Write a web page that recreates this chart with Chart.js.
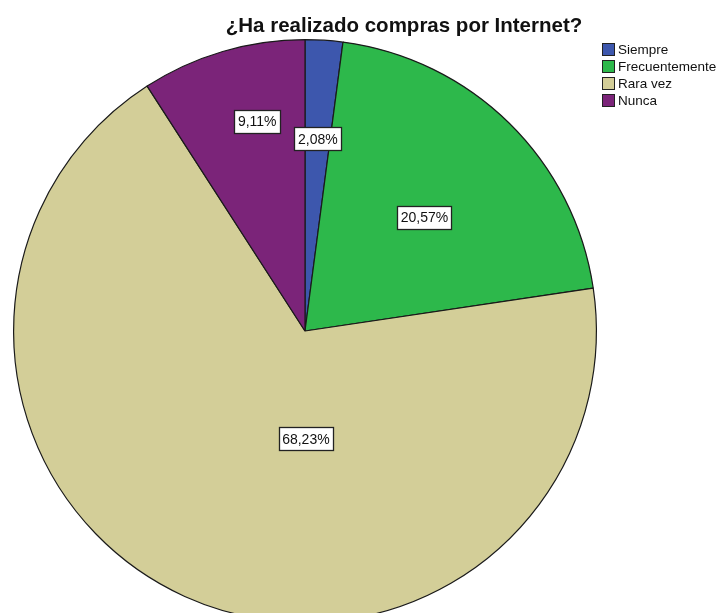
<!DOCTYPE html>
<html>
<head>
<meta charset="utf-8">
<script src="https://cdn.jsdelivr.net/npm/chart.js@4"></script>
<style>
  html, body { margin: 0; padding: 0; background: #fff; overflow: hidden; }
  #wrap { width: 720px; height: 613px; overflow: hidden; }
</style>
</head>
<body>
<div id="wrap"><canvas id="pie" width="720" height="640"></canvas></div>
<script>
const categories = ['Siempre', 'Frecuentemente', 'Rara vez', 'Nunca'];
const percents = [2.08, 20.57, 68.23, 9.11];
const sliceColors = ['#3d57ad', '#2db84b', '#d3ce98', '#7b2479'];
const chartTitle = '¿Ha realizado compras por Internet?';

// label offsets as fraction of the outer radius (SPSS places them oddly)
const labelOffsets = [[0.044, -0.66], [0.41, -0.39], [0.003, 0.37], [-0.164, -0.72]];

const fmt = v => v.toFixed(2).replace('.', ',') + '%';

const extras = {
    id: 'extras',
    afterDraw(chart) {
        const ctx = chart.ctx;
        const arcs = chart.getDatasetMeta(0).data;

        // value boxes
        ctx.save();
        ctx.font = '14px "Liberation Sans", Arial, sans-serif';
        ctx.textAlign = 'center';
        ctx.textBaseline = 'middle';
        arcs.forEach((arc, i) => {
            const r = arc.outerRadius;
            const x = arc.x + labelOffsets[i][0] * r;
            const y = arc.y + labelOffsets[i][1] * r;
            const txt = fmt(percents[i]);
            const w = Math.round(ctx.measureText(txt).width + 7);
            const h = 23;
            const bx = Math.round(x - w / 2) + 0.5;
            const by = Math.round(y - h / 2) + 0.5;
            ctx.fillStyle = '#fff';
            ctx.fillRect(bx, by, w, h);
            ctx.strokeStyle = '#222';
            ctx.lineWidth = 1.3;
            ctx.strokeRect(bx, by, w, h);
            ctx.fillStyle = '#111';
            ctx.fillText(txt, x, y + 1);
        });

        // title
        ctx.font = 'bold 20.5px "Liberation Sans", Arial, sans-serif';
        ctx.fillStyle = '#111';
        ctx.textBaseline = 'alphabetic';
        ctx.fillText(chartTitle, 404, 32);

        // legend
        ctx.font = '13.5px "Liberation Sans", Arial, sans-serif';
        ctx.textAlign = 'left';
        ctx.textBaseline = 'middle';
        ctx.lineWidth = 1;
        categories.forEach((c, i) => {
            const y = 43 + i * 17;
            ctx.fillStyle = sliceColors[i];
            ctx.fillRect(602.5, y + 0.5, 12, 12);
            ctx.strokeStyle = '#222';
            ctx.strokeRect(602.5, y + 0.5, 12, 12);
            ctx.fillStyle = '#111';
            ctx.fillText(c, 618, y + 7);
        });
        ctx.restore();
    }
};

new Chart(document.getElementById('pie'), {
    type: 'pie',
    data: {
        labels: categories,
        datasets: [{
            data: percents,
            backgroundColor: sliceColors,
            borderColor: '#1a1a1a',
            borderWidth: 1.2
        }]
    },
    options: {
        responsive: false,
        animation: false,
        layout: { padding: { left: 13, right: 123, top: 39, bottom: 17 } },
        plugins: {
            legend: { display: false },
            title: { display: false },
            tooltip: { enabled: false }
        }
    },
    plugins: [extras]
});
</script>
</body>
</html>
